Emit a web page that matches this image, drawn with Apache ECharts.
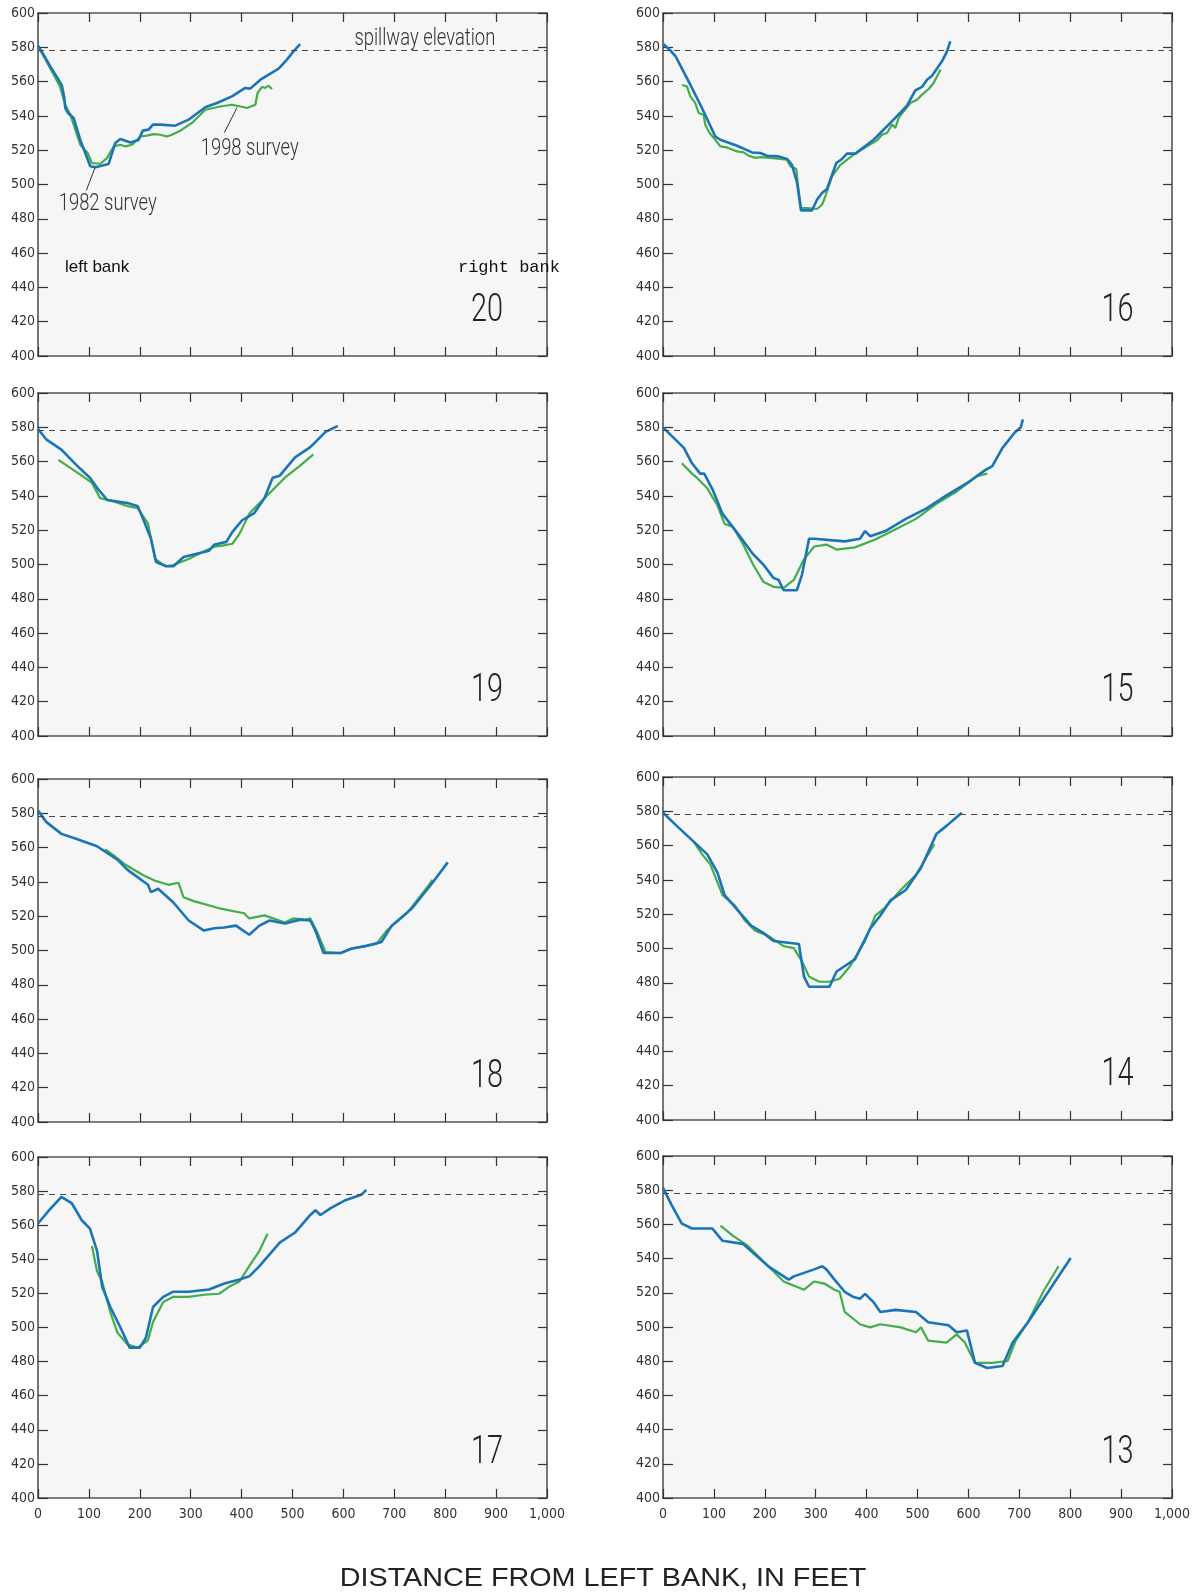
<!DOCTYPE html>
<html>
<head>
<meta charset="utf-8">
<title>Reservoir cross sections, 1982 and 1998 surveys</title>
<script src="https://cdn.jsdelivr.net/npm/echarts@6/dist/echarts.min.js"></script>
<style>
  html, body { margin: 0; padding: 0; background: #ffffff; }
  #chart { width: 1199px; height: 1595px; }
</style>
</head>
<body>
<div id="chart"></div>
<script>
// Cross-section numbers, in the order the panels are laid out (left column, then right column)
const sectionNames = ['20', '19', '18', '17', '16', '15', '14', '13'];

// Axis ticks
const xTickLabels = ['0', '100', '200', '300', '400', '500', '600', '700', '800', '900', '1,000'];
const elevationTicks = [400, 420, 440, 460, 480, 500, 520, 540, 560, 580, 600];
const spillwayElevation = 578;

// Station 20 — [distance from left bank (ft), elevation (ft)]
const sec20_1982 = [[0,581],[11,575.7],[24,568.9],[38.5,562],[47,557.6],[51.7,550.4],[53.6,544.6],[59,541.7],[70,538.8],[83,526],[102.7,510.6],[112.6,510],[138.7,512],[151.9,524.2],[161.7,526.5],[181.5,524.5],[197.6,526],[206,531.4],[217.3,532],[225.8,534.9],[240.3,534.9],[243.6,533.9],[269.7,534.3],[295.9,537.8],[328.7,545],[351.7,547.5],[381,551.4],[407.3,556.3],[417,555.9],[437,561.1],[472.7,567.5],[489,572.8],[502,577.6],[515,581.8]];
const sec20_1998 = [[0,580.5],[20,570],[42.5,557.6],[53.6,546.5],[63.5,540.7],[83,523.2],[97.5,518.4],[106,512.5],[122.4,512.1],[135.5,515.4],[148.6,522.2],[161.7,523.2],[171.5,522.2],[184.7,523.2],[201,528],[214,528.5],[227,529.4],[240,529],[253.4,528],[263,529],[279.6,531.4],[302.5,535.9],[328.7,543.6],[358,545.5],[381,546.5],[397.8,545.5],[410.6,544.6],[427,546.5],[431.4,553.4],[440,556.9],[446.6,556.3],[453,557.6],[459.7,555.7]];

// Station 19
const sec19_1982 = [[0,579],[16,573],[46,567],[76,557.8],[102,550.6],[116,544.7],[136,537.6],[176,535.8],[196,534],[206,527],[222,515],[232,501.5],[252,499],[266,499],[286,504.4],[336,508],[346,511.5],[370,513.2],[382,519],[401,525.8],[425,530],[445,538.7],[461,550.6],[475,551.8],[505,562.5],[535,568.4],[565,577.3],[589,580.8]];
const sec19_1998 = [[40,561],[62,556.6],[86,551.8],[106,547.6],[122,538.7],[146,537],[176,534],[196,532.8],[216,524],[230,503.2],[250,499],[266,499.7],[296,503.2],[316,506.2],[346,510.4],[362,511],[382,512.1],[396,518],[416,530],[445,538.7],[485,550.6],[515,557.7],[541,564.2]];

// Station 18
const sec18_1982 = [[0,581.6],[16,575],[46,568],[76,565],[116,560.8],[156,553],[176,547],[216,538.3],[222,534],[236,536],[266,528],[296,517.5],[326,511.6],[346,513],[366,513.4],[389,514.5],[401,512],[415,509.2],[435,514.5],[455,517.5],[485,515.7],[515,518],[535,517.5],[545,511.6],[561,498.5],[595,498.5],[615,501],[645,502.7],[675,505],[695,514.5],[735,524.6],[775,539.5],[805,551.4]];
const sec18_1998 = [[132,559],[146,556],[172,550],[206,544],[230,540.7],[256,538.3],[276,539.5],[286,531],[306,528.8],[356,524.6],[405,521.7],[415,518.7],[445,520.5],[485,516.3],[501,518.7],[525,518],[535,518.7],[549,510.4],[565,499],[595,498.5],[615,501],[665,503.9],[685,511.6],[725,521.7],[765,537],[775,541.2]];

// Station 17
const sec17_1982 = [[0,561],[22,568.8],[46,576.6],[66,573],[86,562.9],[102,558],[116,545],[126,524],[142,512],[162,500],[180,488.2],[200,488.2],[212,494],[226,512],[246,518],[266,521],[296,521],[336,522.3],[366,525.8],[396,528.2],[415,530],[435,536],[475,549.8],[505,555.7],[535,566],[545,568.8],[555,566],[575,570],[605,574.8],[635,577.8],[645,580.7]];
const sec17_1998 = [[106,547.8],[116,533],[126,527],[142,509],[156,497],[176,490],[196,488.2],[216,492.5],[226,503.2],[246,515],[266,518],[296,518],[326,519.2],[356,519.8],[376,524],[396,527],[415,536],[435,545],[451,555]];

// Station 16
const sec16_1982 = [[0,582.1],[13,578.6],[24.8,574.7],[50.3,560.1],[76.6,544.6],[102.8,528],[112.6,526.1],[145.4,522.6],[174.9,518.7],[191.2,518.4],[204.3,516.8],[227.1,516.4],[243.6,514.9],[253.4,511.5],[263.3,501.2],[271.1,484.9],[292.7,484.9],[302.6,491.1],[312.4,495],[322.2,497.4],[340.5,512.5],[351.7,514.9],[361.5,518],[378,518],[413.8,526.1],[453,537.8],[479.4,546],[495.7,554.9],[508.8,556.9],[518.7,561.1],[528.5,563.4],[548.1,571.8],[558,577.6],[564.4,583.4]];
const sec16_1998 = [[37.3,558],[47.2,557.2],[53.6,551.4],[63.5,547.5],[70,541.7],[79.8,540.7],[83,534.9],[91.6,530],[102.8,526.1],[112.6,522.2],[125.7,521.6],[145.4,519.3],[158.5,518.7],[168.4,516.8],[181.5,515.5],[191.2,516],[210.8,515.5],[243.6,514.5],[250.2,510.6],[262,509],[264.5,500.9],[271.1,486.3],[282.9,486.3],[302.6,485.7],[312.4,488.2],[318.9,493],[332,504.7],[348.5,511.5],[374.7,517.4],[400.8,522.2],[420.5,525.7],[430.3,529],[440.1,530],[449.9,534.9],[456.5,533],[463,538.8],[472.7,542.6],[485.9,547.5],[499,549.4],[508.8,552.4],[522,555.7],[531.6,559.2],[545.4,567]];

// Station 15
const sec15_1982 = [[0,580],[17,575],[41,568],[57,559],[73,553],[81,553],[97,544],[117,529.5],[147,518],[177,506],[197,500],[217,492.2],[227,491],[237,485],[263,485],[273,494],[287,515],[297,515],[357,513.5],[387,515],[397,519.5],[407,516.5],[437,519.5],[477,526.6],[517,532.6],[557,540.3],[597,547.4],[633,555],[647,557.4],[667,568],[691,577],[703,580],[707,584.6]];
const sec15_1998 = [[37,559],[57,553],[67,550.5],[87,544.4],[107,534.4],[121,523.7],[137,522],[157,512],[177,500],[197,490],[217,487],[237,486.4],[257,491],[277,503],[297,510.5],[321,511.6],[341,508.7],[377,510],[417,514.6],[457,520.6],[497,526.6],[537,535.4],[577,542.6],[617,551.5],[637,553]];

// Station 14
const sec14_1982 = [[0,579.2],[27,571.5],[57,563.2],[87,554.9],[107,544.2],[121,531.1],[147,522.2],[173,513.3],[197,509.1],[217,504.4],[267,502.6],[277,483.6],[287,477.7],[327,477.7],[341,486.6],[377,493.7],[407,511.5],[427,519.2],[447,528.1],[477,534.1],[507,547.1],[537,566.7],[557,571.5],[587,579.2]];
const sec14_1998 = [[61,562],[77,554.9],[93,549],[117,531.1],[141,525.2],[161,516.3],[181,510.3],[207,507.4],[237,501.4],[257,500.2],[273,492.5],[287,483.6],[307,480.6],[327,480.6],[347,482.4],[367,489.5],[397,504.4],[417,519.2],[437,524],[467,534.1],[497,543],[533,560.8]];

// Station 13
const sec13_1982 = [[0,581.4],[17,571.3],[37,560.5],[57,557.6],[97,557.6],[117,550.4],[157,548.6],[207,535.5],[247,527.7],[257,529.6],[297,533.7],[313,535.5],[321,533.7],[337,527.7],[357,520.6],[373,517.7],[387,516.5],[397,519.4],[413,514.7],[427,508.8],[457,510],[497,508.8],[521,502.8],[561,501],[577,496.9],[597,498],[613,479],[637,476],[667,477.2],[687,490.9],[717,502.8],[757,520.6],[801,540.3]];
const sec13_1998 = [[113,559.3],[137,553.4],[167,547.4],[207,535.5],[237,526.6],[277,521.8],[297,526.6],[317,525.4],[337,521.8],[347,520.6],[357,508.8],[387,501.6],[407,499.8],[427,501.6],[467,499.8],[497,496.9],[507,499.8],[521,492],[557,490.9],[577,495.7],[593,490.9],[613,479],[647,479],[677,480.1],[693,492],[717,502.8],[747,520.6],[777,535.5]];

const survey1982 = [sec20_1982, sec19_1982, sec18_1982, sec17_1982, sec16_1982, sec15_1982, sec14_1982, sec13_1982];
const survey1998 = [sec20_1998, sec19_1998, sec18_1998, sec17_1998, sec16_1998, sec15_1998, sec14_1998, sec13_1998];

// ---- layout ----
const narrow = "'DejaVu Sans Condensed', 'Liberation Sans Narrow', 'Noto Sans', sans-serif";
const light = "Roboto, 'Noto Sans', sans-serif";
const axisColor = '#555';
const blue = '#1a74b6';
const green = '#43ad4a';

const colLeft = [38, 663];
const plotWidth = 509;
const rowTops = [[13, 393, 779, 1157], [13, 393, 777, 1156]];
const rowHeights = [[343, 343, 343, 341], [343, 343, 343, 342]];

const grids = [], xAxes = [], yAxes = [], series = [];

sectionNames.forEach(function (name, i) {
  const col = i < 4 ? 0 : 1;
  const row = i % 4;
  grids.push({
    left: colLeft[col], top: rowTops[col][row], width: plotWidth, height: rowHeights[col][row],
    show: true, backgroundColor: '#f6f6f6', borderWidth: 0
  });
  const tick = { show: true, inside: true, length: 9, lineStyle: { color: '#333', width: 1.2 } };
  const line = { show: true, onZero: false, lineStyle: { color: axisColor, width: 1.6 } };
  xAxes.push({
    type: 'value', gridIndex: i, position: 'bottom', min: 0, max: 1000, interval: 100,
    axisLine: line, axisTick: tick, splitLine: { show: false },
    axisLabel: {
      show: row === 3, margin: 9, color: '#333', fontSize: 14, fontFamily: narrow,
      formatter: function (v) { return xTickLabels[Math.round(v / 100)]; }
    }
  });
  xAxes.push({
    type: 'value', gridIndex: i, position: 'top', min: 0, max: 1000, interval: 100,
    axisLine: line, axisTick: tick, splitLine: { show: false }, axisLabel: { show: false }
  });
  yAxes.push({
    type: 'value', gridIndex: i, position: 'left', min: 400, max: 600, interval: 20,
    axisLine: line, axisTick: Object.assign({}, tick, { length: 10 }), splitLine: { show: false },
    axisLabel: {
      show: true, margin: 3, color: '#333', fontSize: 14, fontFamily: narrow,
      formatter: function (v) { return String(elevationTicks[Math.round((v - 400) / 20)]); }
    }
  });
  yAxes.push({
    type: 'value', gridIndex: i, position: 'right', min: 400, max: 600, interval: 20,
    axisLine: line, axisTick: tick, splitLine: { show: false }, axisLabel: { show: false }
  });

  series.push({
    name: '1998 survey ' + name, type: 'line', xAxisIndex: 2 * i, yAxisIndex: 2 * i,
    data: survey1998[i], showSymbol: false, silent: true, z: 3,
    lineStyle: { color: green, width: 2.2 }
  });
  const blueSeries = {
    name: '1982 survey ' + name, type: 'line', xAxisIndex: 2 * i, yAxisIndex: 2 * i,
    data: survey1982[i], showSymbol: false, silent: true, z: 4,
    lineStyle: { color: blue, width: 2.6 },
    markLine: {
      silent: true, symbol: ['none', 'none'], label: { show: false },
      lineStyle: { color: '#444', type: [6, 5], width: 1.2 },
      data: [{ yAxis: spillwayElevation }]
    }
  };
  if (i === 0) {
    // leader lines from the survey labels to their curves
    blueSeries.markLine.data.push(
      [{ coord: [391, 544.8], lineStyle: { type: 'solid', color: '#333', width: 1 } }, { coord: [366, 530.2] }],
      [{ coord: [112, 509.8], lineStyle: { type: 'solid', color: '#333', width: 1 } }, { coord: [95, 496.5] }]
    );
  }
  series.push(blueSeries);
});

const chart = echarts.init(document.getElementById('chart'), null, { renderer: 'canvas' });
chart.setOption({
  backgroundColor: '#ffffff',
  animation: false,
  grid: grids,
  xAxis: xAxes,
  yAxis: yAxes,
  series: series
});

// ---- text annotations, placed in data coordinates of each panel ----
function px(gridIndex, x, y) {
  return chart.convertToPixel({ xAxisIndex: 2 * gridIndex, yAxisIndex: 2 * gridIndex }, [x, y]);
}
function label(gridIndex, x, y, text, style, align, squeeze) {
  const p = px(gridIndex, x, y);
  return {
    type: 'text', x: p[0], y: p[1], z: 10, silent: true,
    scaleX: squeeze || 1,
    style: Object.assign({ text: text, fill: '#222', align: align || 'center', verticalAlign: 'middle' }, style)
  };
}

const graphics = [];
sectionNames.forEach(function (name, i) {
  const xPos = i < 4 ? 882 : 893;
  graphics.push(label(i, xPos, 426, name, { fontSize: 38, fontFamily: light, fontWeight: 300, fill: '#222' }, 'center', 0.76));
});
const annoStyle = { fontSize: 23, fontFamily: light, fontWeight: 300, fill: '#333' };
graphics.push(label(0, 760, 584.6, 'spillway elevation', annoStyle, 'center', 0.8));
graphics.push(label(0, 416, 520.3, '1998 survey', annoStyle, 'center', 0.8));
graphics.push(label(0, 137, 488.2, '1982 survey', annoStyle, 'center', 0.8));
graphics.push(label(0, 53, 451.8, 'left bank', { fontSize: 17, fontFamily: "'Liberation Sans', Arial, sans-serif", fill: '#111' }, 'left'));
graphics.push(label(0, 825, 451.8, 'right bank', { fontSize: 17, fontFamily: "'Liberation Mono', 'Courier New', monospace", fill: '#111' }, 'left'));
graphics.push({
  type: 'text', x: 603, y: 1579, silent: true, scaleX: 1.15,
  style: {
    text: 'DISTANCE FROM LEFT BANK, IN FEET', fill: '#222', align: 'center', verticalAlign: 'middle',
    fontSize: 25, fontFamily: "'Liberation Sans', Arial, sans-serif"
  }
});

chart.setOption({ graphic: graphics });
</script>
</body>
</html>
